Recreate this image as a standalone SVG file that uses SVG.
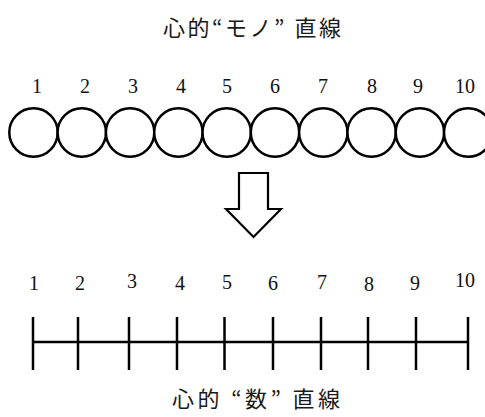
<svg xmlns="http://www.w3.org/2000/svg" width="485" height="417" viewBox="0 0 485 417">
<style>
.ttl{font-family:"Noto Sans CJK JP","Noto Sans",sans-serif;font-size:22px;fill:#1a1a1a;}
.num{font-family:"Liberation Serif","Times New Roman",serif;font-size:20px;fill:#111;text-anchor:middle;}
.c{fill:#fff;stroke:#000;stroke-width:2.5;}
.ln{stroke:#000;stroke-width:2.5;fill:none;}
</style>
<rect width="485" height="417" fill="#fff"/>
<g id="title-top"><text class="ttl" x="163" y="36" textLength="178" lengthAdjust="spacing">心的“モノ” 直線</text></g>
<g id="nums-top">
<text class="num" x="37" y="93">1</text>
<text class="num" x="85" y="93">2</text>
<text class="num" x="133" y="93">3</text>
<text class="num" x="181" y="93">4</text>
<text class="num" x="227" y="93">5</text>
<text class="num" x="275" y="93">6</text>
<text class="num" x="323" y="93">7</text>
<text class="num" x="372" y="93">8</text>
<text class="num" x="418" y="93">9</text>
<text class="num" x="465" y="93">10</text>
</g>
<g id="circles">
<circle class="c" cx="33.5" cy="132.5" r="24.2"/>
<circle class="c" cx="81.8" cy="132.5" r="24.2"/>
<circle class="c" cx="130.1" cy="132.5" r="24.2"/>
<circle class="c" cx="178.4" cy="132.5" r="24.2"/>
<circle class="c" cx="226.7" cy="132.5" r="24.2"/>
<circle class="c" cx="275" cy="132.5" r="24.2"/>
<circle class="c" cx="323.3" cy="132.5" r="24.2"/>
<circle class="c" cx="371.6" cy="132.5" r="24.2"/>
<circle class="c" cx="419.9" cy="132.5" r="24.2"/>
<circle class="c" cx="468.2" cy="132.5" r="24.2"/>
</g>
<g id="arrow"><polygon points="239,173 268,173 268,209 281,209 253.5,237 226,209 239,209" fill="#fff" stroke="#000" stroke-width="2.2" stroke-linejoin="miter"/></g>
<g id="nums-bottom">
<text class="num" x="34" y="290">1</text>
<text class="num" x="80" y="290">2</text>
<text class="num" x="132" y="288">3</text>
<text class="num" x="180" y="290">4</text>
<text class="num" x="227" y="289">5</text>
<text class="num" x="273" y="290">6</text>
<text class="num" x="322" y="289">7</text>
<text class="num" x="369" y="291">8</text>
<text class="num" x="415" y="290">9</text>
<text class="num" x="465" y="287">10</text>
</g>
<g id="number-line">
<line class="ln" x1="33" y1="342" x2="468" y2="342"/>
<line class="ln" x1="33" y1="317" x2="33" y2="370"/>
<line class="ln" x1="78" y1="317" x2="78" y2="370"/>
<line class="ln" x1="129" y1="317" x2="129" y2="370"/>
<line class="ln" x1="177" y1="317" x2="177" y2="370"/>
<line class="ln" x1="224.5" y1="317" x2="224.5" y2="370"/>
<line class="ln" x1="273" y1="317" x2="273" y2="370"/>
<line class="ln" x1="321" y1="317" x2="321" y2="370"/>
<line class="ln" x1="368" y1="317" x2="368" y2="370"/>
<line class="ln" x1="416" y1="317" x2="416" y2="370"/>
<line class="ln" x1="468" y1="317" x2="468" y2="370"/>
</g>
<g id="title-bottom"><text class="ttl" x="172" y="407" textLength="168" lengthAdjust="spacing">心的 “数” 直線</text></g>
</svg>
